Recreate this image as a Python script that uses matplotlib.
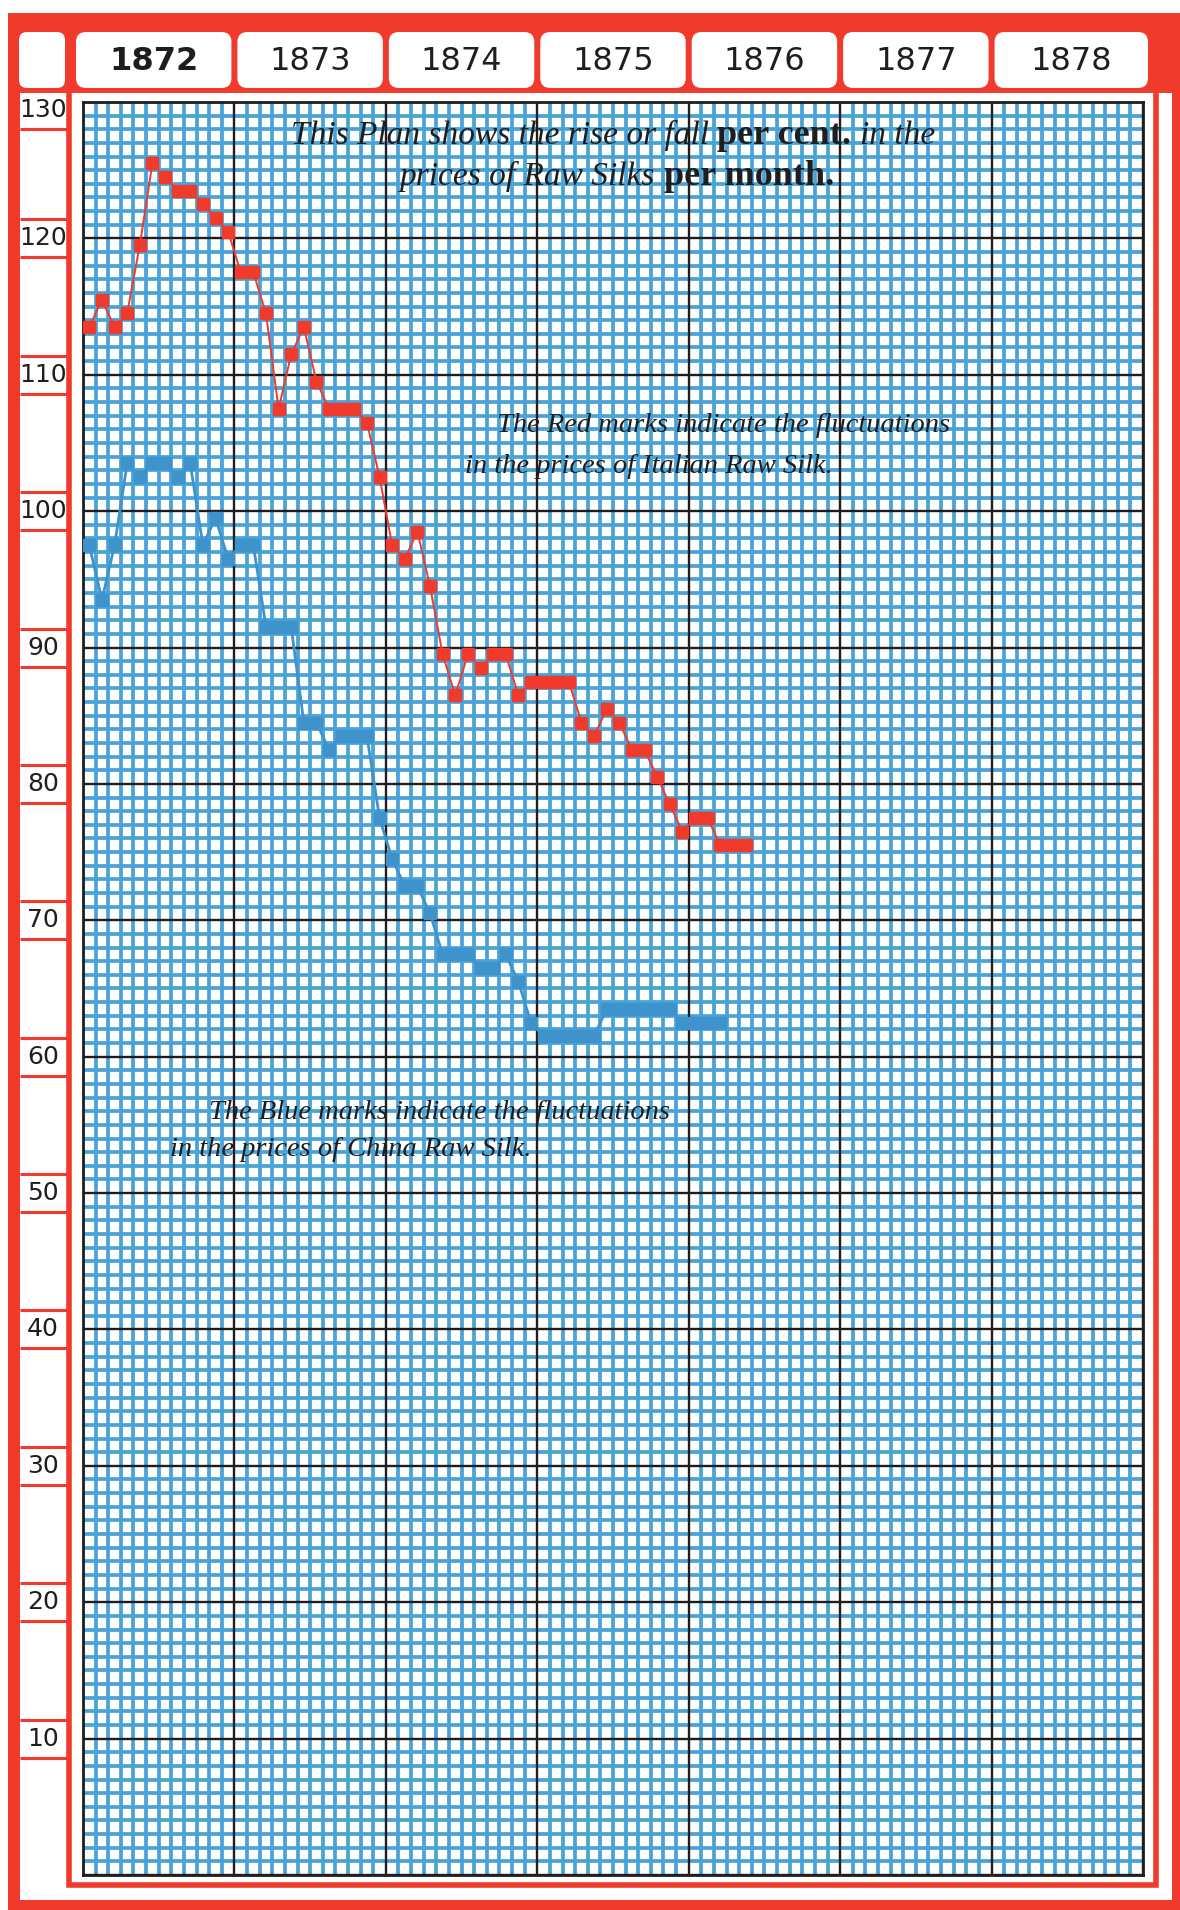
import numpy as np
import matplotlib
matplotlib.use("Agg")
import matplotlib.pyplot as plt
from matplotlib.patches import Rectangle, FancyBboxPatch
from matplotlib import transforms

annees = [1872, 1873, 1874, 1875, 1876, 1877, 1878]
graduations_y = list(range(10, 131, 10))

soie_italie = [113.5, 115.5, 113.5, 114.5, 119.5, 125.5, 124.5, 123.5, 123.5, 122.5, 121.5, 120.5,
               117.5, 117.5, 114.5, 107.5, 111.5, 113.5, 109.5, 107.5, 107.5, 107.5, 106.5, 102.5,
               97.5, 96.5, 98.5, 94.5, 89.5, 86.5, 89.5, 88.5, 89.5, 89.5, 86.5, 87.5,
               87.5, 87.5, 87.5, 84.5, 83.5, 85.5, 84.5, 82.5, 82.5, 80.5, 78.5, 76.5,
               77.5, 77.5, 75.5, 75.5, 75.5]
soie_chine = [97.5, 93.5, 97.5, 103.5, 102.5, 103.5, 103.5, 102.5, 103.5, 97.5, 99.5, 96.5,
              97.5, 97.5, 91.5, 91.5, 91.5, 84.5, 84.5, 82.5, 83.5, 83.5, 83.5, 77.5,
              74.5, 72.5, 72.5, 70.5, 67.5, 67.5, 67.5, 66.5, 66.5, 67.5, 65.5, 62.5,
              61.5, 61.5, 61.5, 61.5, 61.5, 63.5, 63.5, 63.5, 63.5, 63.5, 63.5, 62.5,
              62.5, 62.5, 62.5]

# --- Couleurs ---
ROUGE = "#ef3a2c"
BLEU_GRILLE = "#4aa3d8"
BLEU_MARQUE = "#3f93cc"
NOIR = "#1e1e1e"

W, H = 1180, 1910
fig = plt.figure(figsize=(W / 100, H / 100), dpi=100)
fig.patch.set_facecolor("white")

# axe de fond en pixels (y vers le bas) pour le cadre rouge
fond = fig.add_axes([0, 0, 1, 1])
fond.set_xlim(0, W)
fond.set_ylim(H, 0)
fond.axis("off")

# axe principal (papier quadrille)
ax = fig.add_axes([83 / W, 1 - 1875 / H, (1143 - 83) / W, (1875 - 102) / H])
ax.set_xlim(0, 12 * len(annees))
ax.set_ylim(0, 130)


def vers_fond(x, y):
    return fond.transData.inverted().transform(ax.transData.transform((x, y)))


# --- Cadre rouge ---
fond.add_patch(Rectangle((8, 13), W - 8, H - 13, fc=ROUGE, ec="none", zorder=0))
fond.add_patch(Rectangle((20, 93), 1152, 1807, fc="white", ec="none", zorder=0.5))
fond.add_patch(Rectangle((69, 90), 1156 - 69, 1885 - 90, fill=False, ec=ROUGE, lw=4, zorder=1))

# onglets des annees
for i, an in enumerate(annees):
    x0 = vers_fond(12 * i, 0)[0] + 3
    x1 = vers_fond(12 * (i + 1), 0)[0] - 3
    if i == 0:
        x0 -= 10
    if i == len(annees) - 1:
        x1 += 8
    fond.add_patch(FancyBboxPatch((x0, 32), x1 - x0, 56, boxstyle="round,pad=0,rounding_size=10",
                                  fc="white", ec="none", zorder=2))
    fond.text((x0 + x1) / 2, 61, str(an), ha="center", va="center", fontsize=23, color=NOIR,
              fontweight="bold" if i == 0 else "normal", family="DejaVu Sans", zorder=3)
fond.add_patch(FancyBboxPatch((19, 32), 46, 56, boxstyle="round,pad=0,rounding_size=8",
                              fc="white", ec="none", zorder=2))

# graduations de gauche dans des cases
for v in graduations_y:
    yv = max(vers_fond(0, v)[1], 110)
    for dy in (-19, 19):
        if yv + dy > 95:
            fond.plot([20, 68], [yv + dy, yv + dy], color=ROUGE, lw=2.2, zorder=2, solid_capstyle="butt")
    fond.text(43, yv, str(v), ha="center", va="center", fontsize=18, color=NOIR,
              family="DejaVu Sans", zorder=3)

# --- Quadrillage ---
ax.set_facecolor("white")
ax.set_xticks(np.arange(0, 12 * len(annees) + 1, 12))
ax.set_xticks(np.arange(0, 12 * len(annees) + 1, 1), minor=True)
ax.set_yticks(np.arange(0, 131, 10))
ax.set_yticks(np.arange(0, 131, 1), minor=True)
ax.tick_params(which="both", length=0, labelbottom=False, labelleft=False)
ax.set_axisbelow(True)
ax.grid(which="minor", color=BLEU_GRILLE, lw=2.7)
for xv in ax.get_xticks():
    ax.axvline(xv, color=NOIR, lw=1.7, zorder=1.5)
for yv in ax.get_yticks():
    ax.axhline(yv, color=NOIR, lw=1.7, zorder=1.5)
for s in ax.spines.values():
    s.set_color(NOIR)
    s.set_linewidth(2)

# --- Series ---
mois_it = np.arange(len(soie_italie)) + 0.5
mois_ch = np.arange(len(soie_chine)) + 0.5
ax.plot(mois_ch, soie_chine, color=BLEU_MARQUE, lw=2.0, marker="s", ms=9, mec=BLEU_MARQUE, zorder=3)
ax.plot(mois_it, soie_italie, color=ROUGE, lw=1.4, marker="s", ms=8.5, mec=ROUGE, zorder=4)

# --- Textes ---
ITAL = dict(family="Liberation Serif", style="italic", fontsize=24, color=NOIR)
GRAS = dict(family="Liberation Serif", fontweight="bold", fontsize=26, color=NOIR)
renderer = fig.canvas.get_renderer()


def ligne_mixte(x, y, morceaux, ha="center"):
    textes = [ax.text(x, y, t, va="baseline", zorder=5, **st) for t, st in morceaux]
    largeurs = [t.get_window_extent(renderer).width for t in textes]
    xd, yd = ax.transData.transform((x, y))
    debut = xd - sum(largeurs) / 2 if ha == "center" else xd
    for t, w in zip(textes, largeurs):
        t.set_transform(transforms.IdentityTransform())
        t.set_position((debut, yd))
        debut += w


ligne_mixte(42.0, 126.9, [("This Plan shows the rise or fall ", ITAL), ("per cent. ", GRAS), ("in the", ITAL)])
ligne_mixte(42.3, 123.9, [("prices of Raw Silks ", ITAL), ("per month.", GRAS)])

NOTE = dict(family="Liberation Serif", style="italic", fontsize=20.5, color=NOIR, va="baseline", zorder=5)
ax.text(32.8, 105.8, "The Red marks indicate the fluctuations", **NOTE)
ax.text(30.3, 102.8, "in the prices of Italian Raw Silk.", **NOTE)
ax.text(10.0, 55.4, "The Blue marks indicate the fluctuations", **NOTE)
ax.text(6.9, 52.7, "in the prices of China Raw Silk.", **NOTE)

fig.savefig("out.png", dpi=100, facecolor="white")
